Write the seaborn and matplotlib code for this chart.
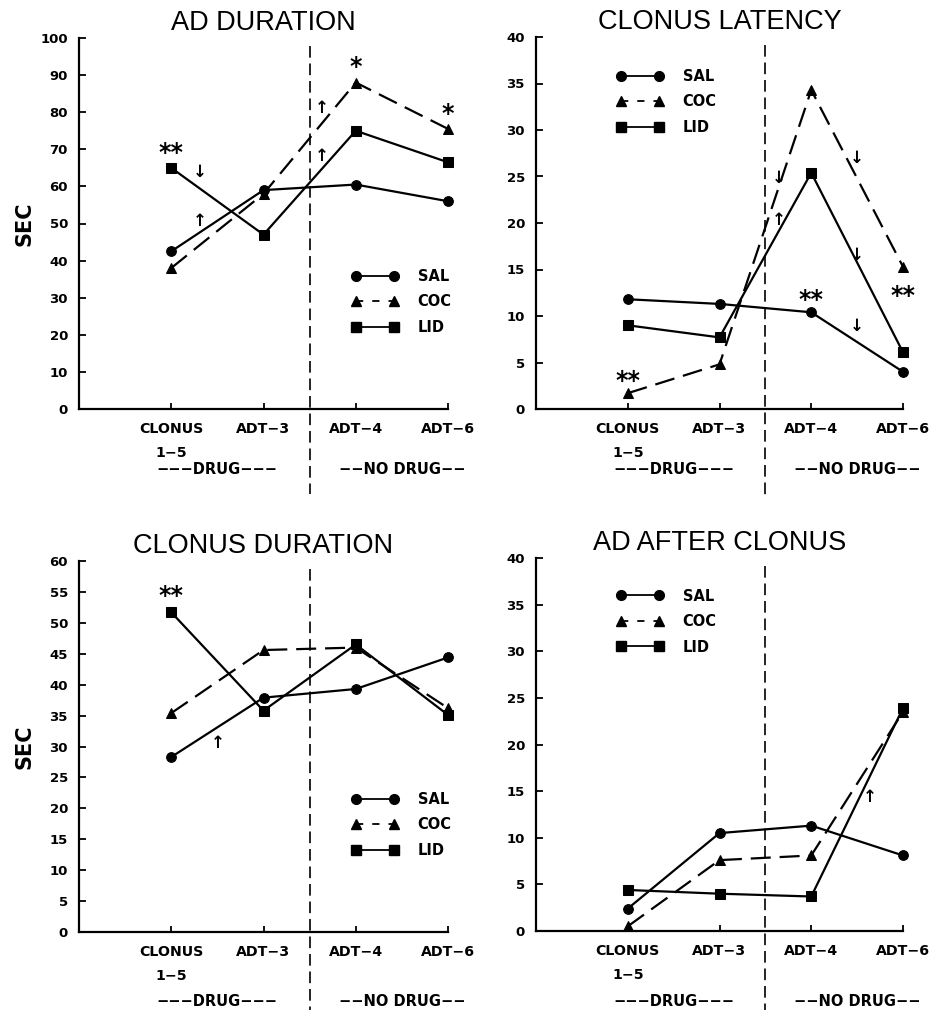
import numpy as np
import pandas as pd
import matplotlib
matplotlib.use("Agg")
import matplotlib.pyplot as plt
import matplotlib.transforms as mtransforms
from matplotlib.lines import Line2D
import seaborn as sns

# ---------------- data ----------------
categories = ["CLONUS\n1\u22125", "ADT\u22123", "ADT\u22124", "ADT\u22126"]
groups = ["SAL", "COC", "LID"]

ad_duration_sal = [42.5, 59.0, 60.5, 56.0]
ad_duration_coc = [38.0, 58.0, 88.0, 75.5]
ad_duration_lid = [65.0, 47.0, 75.0, 66.5]

clonus_latency_sal = [11.8, 11.3, 10.4, 4.0]
clonus_latency_coc = [1.7, 4.8, 34.3, 15.3]
clonus_latency_lid = [9.0, 7.7, 25.4, 6.1]

clonus_duration_sal = [28.3, 37.9, 39.3, 44.4]
clonus_duration_coc = [35.4, 45.6, 46.0, 36.2]
clonus_duration_lid = [51.7, 35.8, 46.5, 35.1]

ad_after_sal = [2.4, 10.5, 11.3, 8.1]
ad_after_coc = [0.5, 7.6, 8.1, 23.5]
ad_after_lid = [4.4, 4.0, 3.7, 23.9]

titles = ["AD DURATION", "CLONUS LATENCY", "CLONUS DURATION", "AD AFTER CLONUS"]
ymaxes = [100, 40, 60, 40]
ysteps = [10, 5, 5, 5]
phase_labels = ["\u2212\u2212\u2212DRUG\u2212\u2212\u2212", "\u2212\u2212NO DRUG\u2212\u2212"]

# significance marks: (category index 0-based, y value, text)
stars_ad_duration = [(0, 71.2, "**"), (2, 94.3, "*"), (3, 81.8, "*")]
stars_clonus_latency = [(0, 3.9, "**"), (2, 12.6, "**"), (3, 13.1, "**")]
stars_clonus_duration = [(0, 55.7, "**")]
stars_ad_after = []

# small arrows: (x position in category units 0-based, y value, direction)
arrows_ad_duration = [(0.31, 63.9, "down"), (0.31, 50.7, "up"), (1.63, 81.0, "up"), (1.63, 68.2, "up")]
arrows_clonus_latency = [(1.64, 24.8, "down"), (1.64, 20.3, "up"), (2.5, 27.0, "down"),
                         (2.5, 16.6, "down"), (2.5, 8.9, "down")]
arrows_clonus_duration = [(0.5, 30.6, "up")]
arrows_ad_after = [(2.64, 14.4, "up")]

panels = [
    (ad_duration_sal, ad_duration_coc, ad_duration_lid, stars_ad_duration, arrows_ad_duration),
    (clonus_latency_sal, clonus_latency_coc, clonus_latency_lid, stars_clonus_latency, arrows_clonus_latency),
    (clonus_duration_sal, clonus_duration_coc, clonus_duration_lid, stars_clonus_duration, arrows_clonus_duration),
    (ad_after_sal, ad_after_coc, ad_after_lid, stars_ad_after, arrows_ad_after),
]

# ---------------- style ----------------
sns.set_theme(style="ticks")
plt.rcParams["font.family"] = ["DejaVu Sans"]
for k in ["text.color", "axes.labelcolor", "xtick.color", "ytick.color", "axes.edgecolor"]:
    plt.rcParams[k] = "black"

W, H = 935, 1010
fig = plt.figure(figsize=(W / 100, H / 100), dpi=100)


def box(x0, x1, ytop, ybot):
    return [x0 / W, 1 - ybot / H, (x1 - x0) / W, (ybot - ytop) / H]


axes_boxes = [box(79, 448, 38, 409), box(536, 903, 37, 409),
              box(79, 448, 561, 932), box(536, 903, 558, 931)]
legend_anchor = [(0.740, 0.378), (0.221, 0.915), (0.740, 0.378), (0.221, 0.918)]
drug_offsets = [-60, -60, -70, -70]

markers = {"SAL": "o", "COC": "^", "LID": "s"}
msizes = {"SAL": 7, "COC": 6.5, "LID": 7}

xpos = [1, 2, 3, 4]

for i, (sal, coc, lid, stars, arrows) in enumerate(panels):
    ax = fig.add_axes(axes_boxes[i])
    df = pd.DataFrame({
        "x": xpos * 3,
        "y": sal + coc + lid,
        "group": ["SAL"] * 4 + ["COC"] * 4 + ["LID"] * 4,
    })
    for g in groups:
        sub = df[df["group"] == g]
        sns.lineplot(data=sub, x="x", y="y", ax=ax, color="black",
                     marker=markers[g], markersize=msizes[g],
                     markeredgecolor="black", markerfacecolor="black",
                     linewidth=1.6, legend=False, estimator=None, sort=False)
    for ln in ax.get_lines():
        if ln.get_marker() == "^":
            ln.set_dashes((9, 4))
        ln.set_clip_on(False)

    ax.set_xlim(0, 4)
    ax.set_ylim(0, ymaxes[i])
    ax.set_xticks(xpos)
    ax.set_xticklabels(categories)
    ax.set_yticks(np.arange(0, ymaxes[i] + 0.1, ysteps[i]))
    ax.set_xlabel("")
    ax.set_ylabel("")
    for s in ["top", "right"]:
        ax.spines[s].set_visible(False)
    for s in ["left", "bottom"]:
        ax.spines[s].set_linewidth(1.6)
        ax.spines[s].set_color("black")
    ax.tick_params(axis="y", direction="in", length=5, width=1.3, pad=8,
                   labelsize=9.5, colors="black")
    ax.tick_params(axis="x", direction="in", length=4, width=1.3, pad=9.5,
                   labelsize=10.2, colors="black")
    for lbl in ax.get_xticklabels() + ax.get_yticklabels():
        lbl.set_fontweight("bold")
    for lbl in ax.get_xticklabels():
        lbl.set_linespacing(1.9)
    ax.set_facecolor("white")

    ax.set_title(titles[i], fontsize=19.5, fontfamily="Liberation Sans",
                 fontweight="normal", pad=6, color="black")

    if i in (0, 2):
        ax.set_ylabel("SEC", fontsize=15, fontweight="bold", color="black")
        ax.yaxis.set_label_coords(-0.12, 0.5)

    # vertical dashed separator between drug / no drug
    trans = mtransforms.blended_transform_factory(ax.transData, ax.transAxes)
    ax.plot([2.5, 2.5], [0.978, -0.23], transform=trans, color="black",
            linewidth=1.2, dashes=(7, 3.5), clip_on=False)

    # DRUG / NO DRUG labels
    for xc, txt in zip([1.5, 3.5], phase_labels):
        ax.annotate(txt, xy=(xc, 0), xycoords=trans,
                    xytext=(0, drug_offsets[i] * 0.72), textcoords="offset points",
                    ha="center", va="center", fontsize=10.5, fontweight="bold",
                    color="black")

    # significance stars
    for ci, yv, t in stars:
        ax.annotate(t, xy=(xpos[ci], yv), xytext=(0, -6), textcoords="offset points",
                    ha="center", va="center", fontsize=17, fontweight="bold",
                    color="black", annotation_clip=False)

    # small arrows
    for xa, ya, d in arrows:
        ax.text(xa + 1, ya, "\u2191" if d == "up" else "\u2193", ha="center",
                va="center", fontsize=12, fontweight="bold", color="black")

    # legend
    handles = []
    for g in groups:
        h = Line2D([0], [0], color="black", marker=markers[g], markersize=msizes[g],
                   linewidth=1.3)
        if g == "COC":
            h.set_dashes((4, 5))
        handles.append(h)
    ax.legend(handles, groups, loc="upper left", bbox_to_anchor=legend_anchor[i],
              frameon=False, numpoints=2, handlelength=3.2, handletextpad=1.3,
              labelspacing=0.72, borderpad=0, borderaxespad=0,
              prop={"weight": "bold", "size": 10.5})

fig.savefig("out.png", dpi=100, facecolor="white")
